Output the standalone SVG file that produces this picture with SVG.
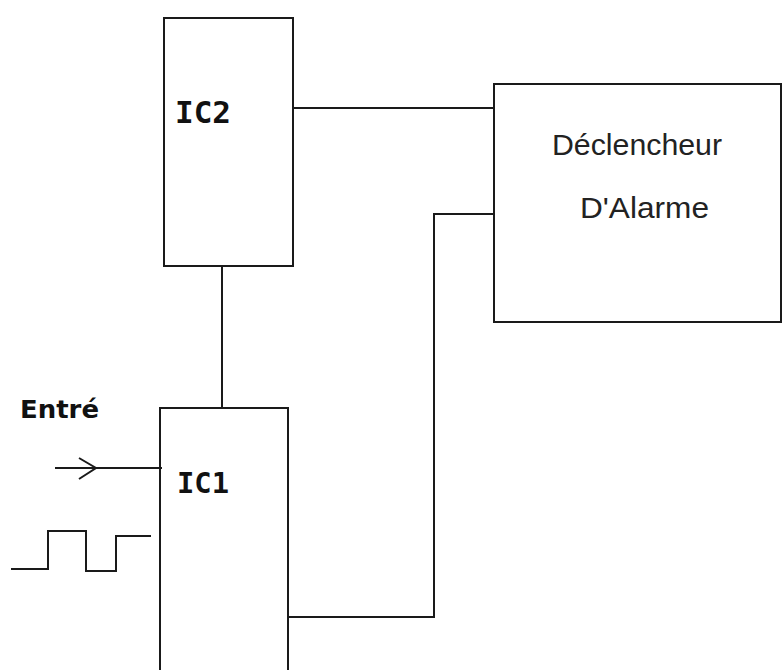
<svg xmlns="http://www.w3.org/2000/svg" width="782" height="670" viewBox="0 0 782 670">
<style>
.box{fill:none;stroke:#1a1a1a;stroke-width:2}
.wire{fill:none;stroke:#1a1a1a;stroke-width:2}
.ic{font-family:"DejaVu Sans Mono",monospace;font-weight:bold;fill:#111}
.lbl{font-family:"Liberation Sans",Arial,sans-serif;fill:#222}
.hand{font-family:"DejaVu Sans",sans-serif;font-weight:bold;fill:#111}
</style>
<rect width="782" height="670" fill="#fff"/>
<g id="ic2">
<rect class="box" x="164" y="18" width="129" height="248"/>
<text class="ic" x="175" y="123" font-size="30" textLength="56" lengthAdjust="spacingAndGlyphs">IC2</text>
</g>
<g id="declencheur">
<rect class="box" x="494" y="84" width="287" height="238"/>
<text class="lbl" x="552" y="155" font-size="29" textLength="170" lengthAdjust="spacingAndGlyphs">Déclencheur</text>
<text class="lbl" x="580" y="218" font-size="29" textLength="129" lengthAdjust="spacingAndGlyphs">D'Alarme</text>
</g>
<g id="ic1">
<path class="box" d="M160,671 V408 H288 V671"/>
<text class="ic" x="177" y="493" font-size="28" textLength="52" lengthAdjust="spacingAndGlyphs">IC1</text>
</g>
<g id="input">
<text class="hand" x="20" y="418" font-size="24" textLength="79" lengthAdjust="spacingAndGlyphs">Entré</text>
<path class="wire" d="M11,569 H48 V531 H86 V571 H116 V536 H151"/>
</g>
<g id="connectors">
<path class="wire" d="M293,108 H494"/>
<path class="wire" d="M222,266 V408"/>
<path class="wire" d="M288,617 H434 V214 H494"/>
<path class="wire" d="M55,468 H162"/>
<path class="wire" stroke-width="1.6" d="M79,458 L96,468 L79,479"/>
</g>
</svg>
